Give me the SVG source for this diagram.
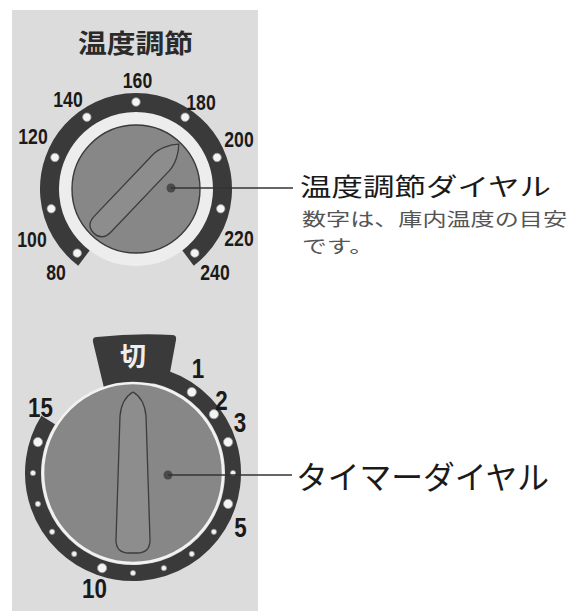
<svg xmlns="http://www.w3.org/2000/svg" width="574" height="611" viewBox="0 0 574 611">
  <style>
    .num { font-family: "Liberation Sans", Arial, sans-serif; font-weight: bold; fill: #1a1a1a; text-anchor: middle; }
    .t22 { font-size: 22px; }
    .t28 { font-size: 28px; }
    .jp { font-family: "Noto Sans CJK JP", "Noto Sans", sans-serif; }
    .ring { fill: none; stroke: #3a3a3a; }
    .dot { fill: #f4f4f4; stroke: #9a9a9a; stroke-width: 0.8; }
    .knob { fill: #878787; }
    .pointer { fill: #8d8d8d; stroke: #3c3c3c; stroke-width: 1.3; }
    .leader { stroke: #333; stroke-width: 1.6; fill: none; }
    .hub { fill: #4a4a4a; }
  </style>

  <!-- white page with the grey control panel -->
  <rect x="0" y="0" width="574" height="611" fill="#ffffff"/>
  <rect x="12" y="10" width="246" height="601" fill="#dcdcdc"/>

  <!-- temperature dial -->
  <g id="temp-dial">
    <text class="jp" x="78" y="53" font-size="26" font-weight="700" fill="#2a2a2a" textLength="115" lengthAdjust="spacingAndGlyphs">温度調節</text>
    <circle cx="136" cy="189" r="77" fill="#ededed"/>
    <path class="ring" stroke-width="19" d="M 83.94 258.08 A 86.5 86.5 0 1 1 188.06 258.08"/>
    <g>
      <circle class="dot" cx="77.22" cy="253.14" r="4.2"/>
      <circle class="dot" cx="51.27" cy="208.76" r="4.2"/>
      <circle class="dot" cx="54.92" cy="157.47" r="4.2"/>
      <circle class="dot" cx="86.87" cy="117.20" r="4.2"/>
      <circle class="dot" cx="136" cy="102" r="4.2"/>
      <circle class="dot" cx="185.13" cy="117.20" r="4.2"/>
      <circle class="dot" cx="217.08" cy="157.47" r="4.2"/>
      <circle class="dot" cx="220.73" cy="208.76" r="4.2"/>
      <circle class="dot" cx="194.78" cy="253.14" r="4.2"/>
    </g>
    <circle class="knob" cx="136" cy="189" r="64" stroke="#3a3a3a" stroke-width="1.4"/>
    <path class="pointer" transform="translate(136 189) rotate(43.6)"
          d="M 0 -62 C 6 -56 11.5 -45 11.5 -36 L 11.5 48 Q 11.5 61 0 61 Q -11.5 61 -11.5 48 L -11.5 -36 C -11.5 -45 -6 -56 0 -62 Z"/>
    <g class="num t22">
      <text transform="translate(137.5 88) scale(.8 1)">160</text>
      <text transform="translate(68 107) scale(.8 1)">140</text>
      <text transform="translate(201 110) scale(.8 1)">180</text>
      <text transform="translate(33 144) scale(.8 1)">120</text>
      <text transform="translate(239 147) scale(.8 1)">200</text>
      <text transform="translate(32 247) scale(.8 1)">100</text>
      <text transform="translate(239 246) scale(.8 1)">220</text>
      <text transform="translate(56 280) scale(.8 1)">80</text>
      <text transform="translate(215 280) scale(.8 1)">240</text>
    </g>
  </g>

  <!-- timer dial -->
  <g id="timer-dial">
    <path class="ring" stroke-width="16" d="M 124.28 373.38 A 100 100 0 1 1 48.20 420.01"/>
    <path fill="#3a3a3a" d="M 93 342 Q 92 337 97 337 Q 135 333 172 335 Q 177 335 176 340 L 169 378 L 133 390 L 104 388 Z"/>
    <text class="jp" x="133" y="366" font-size="26" font-weight="700" fill="#eeeeee" text-anchor="middle">切</text>
    <g>
      <circle class="dot" cx="191.78" cy="392.10" r="4.6"/>
      <circle class="dot" cx="213.90" cy="414.22" r="4.6"/>
      <circle class="dot" cx="228.11" cy="442.10" r="4.6"/>
      <circle class="dot" cx="233" cy="473" r="2.6"/>
      <circle class="dot" cx="228.11" cy="503.90" r="4.6"/>
      <circle class="dot" cx="213.90" cy="531.78" r="2.6"/>
      <circle class="dot" cx="191.78" cy="553.90" r="2.6"/>
      <circle class="dot" cx="163.90" cy="568.11" r="2.6"/>
      <circle class="dot" cx="133" cy="573" r="2.6"/>
      <circle class="dot" cx="102.10" cy="568.11" r="4.6"/>
      <circle class="dot" cx="74.22" cy="553.90" r="2.6"/>
      <circle class="dot" cx="52.10" cy="531.78" r="2.6"/>
      <circle class="dot" cx="37.89" cy="503.90" r="2.6"/>
      <circle class="dot" cx="33" cy="473" r="2.6"/>
      <circle class="dot" cx="37.89" cy="442.10" r="4.6"/>
    </g>
    <circle class="knob" cx="133" cy="473" r="90" stroke="#f2f2f2" stroke-width="2.6"/>
    <path class="pointer" d="M 133 392 C 140 396 145 405 146 416 L 150 540 Q 150 553 137 553 L 129 553 Q 116 553 116 540 L 120 416 C 121 405 126 396 133 392 Z"/>
    <g class="num t28">
      <text transform="translate(198 378) scale(.8 1)">1</text>
      <text transform="translate(221.5 410) scale(.8 1)">2</text>
      <text transform="translate(240 432) scale(.8 1)">3</text>
      <text transform="translate(240.5 537) scale(.8 1)">5</text>
      <text transform="translate(94.5 598) scale(.8 1)">10</text>
      <text transform="translate(40.5 417) scale(.8 1)">15</text>
    </g>
  </g>

  <!-- leader lines -->
  <g id="connectors">
    <circle class="hub" cx="171" cy="188" r="4.5"/>
    <path class="leader" d="M 171 188 H 293"/>
    <circle class="hub" cx="168" cy="475" r="4.5"/>
    <path class="leader" d="M 168 475 H 292"/>
  </g>

  <!-- callout labels -->
  <g id="label-temp">
    <text class="jp" x="300" y="196" font-size="25" fill="#1a1a1a" textLength="251" lengthAdjust="spacingAndGlyphs">温度調節ダイヤル</text>
    <text class="jp" x="302" y="226" font-size="18.5" fill="#555555" textLength="265" lengthAdjust="spacingAndGlyphs">数字は、庫内温度の目安</text>
    <text class="jp" x="302" y="253" font-size="18.5" fill="#555555" textLength="72" lengthAdjust="spacingAndGlyphs">です。</text>
  </g>
  <g id="label-timer">
    <text class="jp" x="296" y="489" font-size="32" fill="#1a1a1a" textLength="253" lengthAdjust="spacingAndGlyphs">タイマーダイヤル</text>
  </g>
</svg>
